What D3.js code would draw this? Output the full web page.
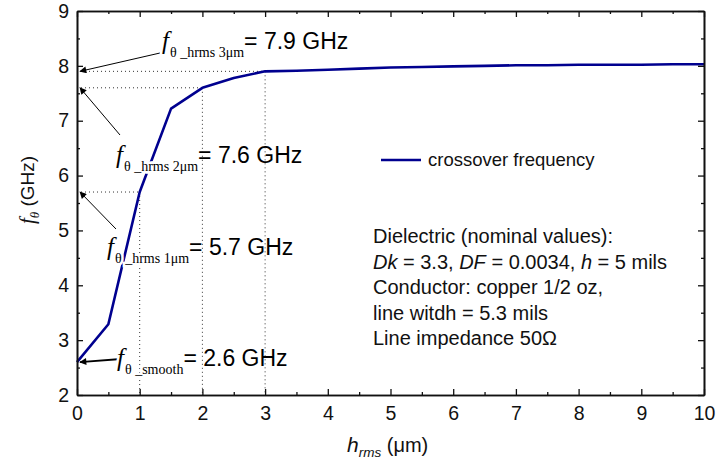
<!DOCTYPE html>
<html>
<head>
<meta charset="utf-8">
<script src="https://cdn.jsdelivr.net/npm/d3@7"></script>
<style>
  html, body { margin: 0; padding: 0; background: #fff; }
  svg { display: block; }
  .sans { font-family: Arial, "Liberation Sans", sans-serif; }
  .serif { font-family: "Times New Roman", "Liberation Serif", serif; }
</style>
</head>
<body>
<svg id="chart" width="717" height="465"></svg>
<script>
// Surface roughness (h_rms, µm) vs. crossover frequency (GHz)
const hrms = [0, 0.5, 1, 1.5, 2, 2.5, 3, 3.5, 4, 4.5, 5, 5.5, 6, 6.5, 7, 7.5, 8, 8.5, 9, 9.5, 10];
const freq = [2.6, 3.29, 5.7, 7.22, 7.6, 7.78, 7.9, 7.91, 7.93, 7.95, 7.97, 7.98, 7.99, 8.0, 8.01, 8.01, 8.02, 8.02, 8.02, 8.03, 8.03];

const xTicks = [0, 1, 2, 3, 4, 5, 6, 7, 8, 9, 10];
const yTicks = [2, 3, 4, 5, 6, 7, 8, 9];

// Marked operating points: h_rms, f, subscript and value text
const markH = [0, 1, 2, 3];
const markF = [2.6, 5.7, 7.6, 7.9];
const markSub = ["θ _smooth", "θ _hrms 1μm", "θ _hrms 2μm", "θ _hrms 3μm"];
const markText = ["= 2.6 GHz", "= 5.7 GHz", "= 7.6 GHz", "= 7.9 GHz"];

const notes = [
  [{t: "Dielectric (nominal values):"}],
  [{t: "Dk", i: true}, {t: " = 3.3,  "}, {t: "DF", i: true}, {t: " = 0.0034, "}, {t: "h", i: true}, {t: " = 5 mils"}],
  [{t: "Conductor: copper 1/2 oz,"}],
  [{t: "line witdh = 5.3 mils"}],
  [{t: "Line impedance 50Ω"}]
];

const svg = d3.select("#chart");
const m = {left: 77, right: 704, top: 11, bottom: 395};

const x = d3.scaleLinear().domain([0, 10]).range([m.left, m.right]);
const y = d3.scaleLinear().domain([2, 9]).range([m.bottom, m.top]);

const data = hrms.map((h, i) => ({h, f: freq[i]}));

// Dotted guide lines from each marked point to both axes
const guides = svg.append("g").attr("stroke", "#333").attr("stroke-width", 1)
  .attr("stroke-dasharray", "1,3").attr("fill", "none");
markH.forEach((h, i) => {
  if (h === 0) return;
  guides.append("line").attr("x1", x(0)).attr("x2", x(h)).attr("y1", y(markF[i])).attr("y2", y(markF[i]));
  guides.append("line").attr("x1", x(h)).attr("x2", x(h)).attr("y1", y(markF[i])).attr("y2", y(2));
});

// Curve
svg.append("path").datum(data)
  .attr("fill", "none").attr("stroke", "#00008f").attr("stroke-width", 2.6)
  .attr("stroke-linejoin", "round")
  .attr("d", d3.line().x(d => x(d.h)).y(d => y(d.f)));

// Axes: ticks inward on all four sides, minor ticks at half steps
(function drawAxes() {
  const g = svg.append("g");
  const mk = (axis, tr) => g.append("g").attr("transform", tr).call(axis);
  const fmt = d3.format("d");
  mk(d3.axisBottom(x).tickValues(xTicks).tickSizeInner(-6).tickSizeOuter(0).tickPadding(11).tickFormat(fmt), `translate(0,${m.bottom})`);
  mk(d3.axisTop(x).tickValues(xTicks).tickSizeInner(-6).tickSizeOuter(0).tickFormat(""), `translate(0,${m.top})`);
  mk(d3.axisLeft(y).tickValues(yTicks).tickSizeInner(-6).tickSizeOuter(0).tickPadding(8).tickFormat(fmt), `translate(${m.left},0)`);
  mk(d3.axisRight(y).tickValues(yTicks).tickSizeInner(-6).tickSizeOuter(0).tickFormat(""), `translate(${m.right},0)`);
  const xMinor = xTicks.slice(0, -1).map(v => v + 0.5);
  const yMinor = yTicks.slice(0, -1).map(v => v + 0.5);
  mk(d3.axisBottom(x).tickValues(xMinor).tickSizeInner(-3).tickSizeOuter(0).tickFormat(""), `translate(0,${m.bottom})`);
  mk(d3.axisTop(x).tickValues(xMinor).tickSizeInner(-3).tickSizeOuter(0).tickFormat(""), `translate(0,${m.top})`);
  mk(d3.axisLeft(y).tickValues(yMinor).tickSizeInner(-3).tickSizeOuter(0).tickFormat(""), `translate(${m.left},0)`);
  mk(d3.axisRight(y).tickValues(yMinor).tickSizeInner(-3).tickSizeOuter(0).tickFormat(""), `translate(${m.right},0)`);
  g.selectAll(".domain").attr("stroke", "#111").attr("stroke-width", 1.6);
  g.selectAll(".tick line").attr("stroke", "#111").attr("stroke-width", 1.3);
  g.selectAll(".tick text").attr("font-size", 19.5).attr("fill", "#111")
    .attr("font-family", "Arial, 'Liberation Sans', sans-serif");
})();

// Arrow marker
svg.append("defs").append("marker")
  .attr("id", "arr").attr("viewBox", "0 0 10 10").attr("refX", 9).attr("refY", 5)
  .attr("markerWidth", 9).attr("markerHeight", 7).attr("markerUnits", "userSpaceOnUse")
  .attr("orient", "auto")
  .append("path").attr("d", "M0,0 L10,5 L0,10 Z").attr("fill", "#000");

// Annotation layout: label anchor and arrow tail (pixels)
const labelPos = [[117, 366], [107, 255], [116, 163], [162, 49]];
const tailPos = [[121, 359], [116, 229], [120, 135], [160, 53]];
const arrowW = [1.8, 1, 1, 1];

markH.forEach((h, i) => {
  svg.append("line")
    .attr("x1", tailPos[i][0]).attr("y1", tailPos[i][1])
    .attr("x2", x(0) + 3).attr("y2", y(markF[i]))
    .attr("stroke", "#000").attr("stroke-width", arrowW[i])
    .attr("marker-end", "url(#arr)");
  const t = svg.append("text").attr("x", labelPos[i][0]).attr("y", labelPos[i][1])
    .attr("fill", "#000");
  t.append("tspan").attr("class", "serif").attr("font-style", "italic").attr("font-size", 25)
    .attr("stroke", "#fff").attr("stroke-width", 5).attr("paint-order", "stroke").text("f");
  t.append("tspan").attr("class", "serif").attr("font-size", 14).attr("dy", 8).attr("dx", 1)
    .attr("stroke", "#fff").attr("stroke-width", 5).attr("paint-order", "stroke").text(markSub[i]);
  t.append("tspan").attr("class", "sans").attr("font-size", 23).attr("dy", -8).text(markText[i]);
});

// Legend
svg.append("line").attr("x1", 381).attr("x2", 421).attr("y1", 160).attr("y2", 160)
  .attr("stroke", "#00008f").attr("stroke-width", 2.6);
svg.append("text").attr("class", "sans").attr("x", 428).attr("y", 166)
  .attr("font-size", 18.5).attr("fill", "#111").text("crossover frequency");

// Notes
notes.forEach((line, i) => {
  const t = svg.append("text").attr("class", "sans").attr("x", 373).attr("y", 243 + i * 25.6)
    .attr("font-size", 20).attr("fill", "#111");
  line.forEach(p => t.append("tspan").attr("font-style", p.i ? "italic" : null).text(p.t));
});

// Axis titles
const xt = svg.append("text").attr("x", 347).attr("y", 452).attr("fill", "#111");
xt.append("tspan").attr("class", "sans").attr("font-style", "italic").attr("font-size", 21).text("h");
xt.append("tspan").attr("class", "sans").attr("font-style", "italic").attr("font-size", 13.5).attr("dy", 5).text("rms");
xt.append("tspan").attr("class", "sans").attr("font-size", 20).attr("dy", -5).text(" (μm)");

const yt = svg.append("text").attr("transform", "translate(34,224) rotate(-90)").attr("fill", "#111");
yt.append("tspan").attr("class", "serif").attr("font-style", "italic").attr("font-size", 21).text("f");
yt.append("tspan").attr("class", "serif").attr("font-style", "italic").attr("font-size", 13).attr("dy", 5).text("θ");
yt.append("tspan").attr("class", "sans").attr("font-size", 19).attr("dy", -5).text("  (GHz)");
</script>
</body>
</html>
